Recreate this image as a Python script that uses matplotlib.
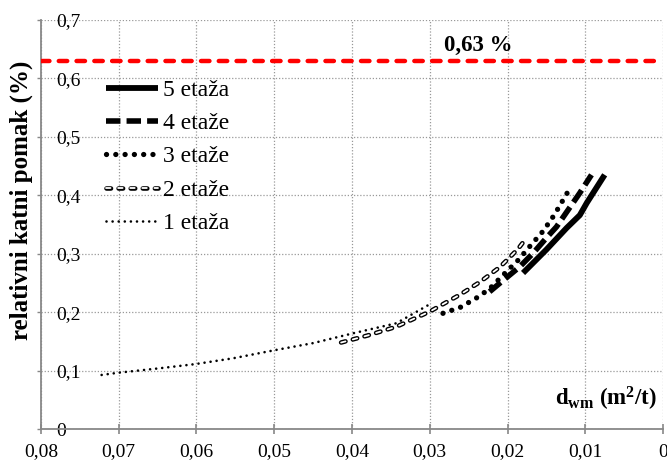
import matplotlib
matplotlib.use("Agg")
import matplotlib.pyplot as plt
import matplotlib.patheffects as pe
from matplotlib.ticker import FuncFormatter, MultipleLocator

plt.rcParams['font.family'] = ['Liberation Serif', 'DejaVu Serif']
plt.rcParams['mathtext.fontset'] = 'custom'
plt.rcParams['mathtext.rm'] = 'Liberation Serif:bold'
plt.rcParams['mathtext.it'] = 'Liberation Serif:italic:bold'
plt.rcParams['mathtext.bf'] = 'Liberation Serif:bold'

# data
x5 = [0.0180, 0.0150, 0.0124, 0.0107, 0.0098, 0.0075]
y5 = [0.267, 0.307, 0.344, 0.366, 0.387, 0.435]
x4 = [0.0223, 0.0205, 0.0184, 0.0167, 0.0150, 0.0137, 0.0122, 0.0107, 0.0092]
y4 = [0.235, 0.255, 0.278, 0.301, 0.327, 0.346, 0.375, 0.404, 0.435]
x3 = [0.0283, 0.0261, 0.0239, 0.0223, 0.0203, 0.0187, 0.0171, 0.0154, 0.0140, 0.0121]
y3 = [0.198, 0.208, 0.225, 0.240, 0.267, 0.288, 0.313, 0.339, 0.366, 0.409]
x2 = [0.0414, 0.0380, 0.0343, 0.0300, 0.0261, 0.0235, 0.0210, 0.0197, 0.0186, 0.0175]
y2 = [0.148, 0.160, 0.175, 0.201, 0.230, 0.252, 0.277, 0.294, 0.309, 0.328]
x1 = [0.0722, 0.0700, 0.0647, 0.0602, 0.0553, 0.0499, 0.0450, 0.0398, 0.0343, 0.0302]
y1 = [0.0925, 0.0964, 0.104, 0.111, 0.121, 0.135, 0.147, 0.164, 0.181, 0.212]
limit = 0.63
limit_label = "0,63 %"
labels = ["5 etaža", "4 etaže", "3 etaže", "2 etaže", "1 etaža"]

fig = plt.figure(figsize=(6.67, 4.63), dpi=100)
ax = fig.add_axes([41/667, (463-429)/463, (663-41)/667, (429-20)/463])

ax.set_xlim(0.08, 0.0)
ax.set_ylim(0, 0.7)
ax.xaxis.set_major_locator(MultipleLocator(0.01))
ax.yaxis.set_major_locator(MultipleLocator(0.1))
fmt = lambda v, p: ("0" if abs(v) < 1e-9 else f"{v:.2f}".replace('.', ','))
fmty = lambda v, p: ("0" if abs(v) < 1e-9 else f"{v:.1f}".replace('.', ','))
ax.xaxis.set_major_formatter(FuncFormatter(fmt))
ax.yaxis.set_major_formatter(FuncFormatter(fmty))
ax.grid(True, color='#999999', linestyle=(0, (1, 1.5)), linewidth=0.9)

for s in ['top', 'right']:
    ax.spines[s].set_visible(False)
for s in ['left', 'bottom']:
    ax.spines[s].set_color('#888888')
    ax.spines[s].set_linewidth(1.3)

ax.tick_params(axis='x', direction='inout', length=7, width=1.2, color='#888888',
               labelsize=14, pad=7)
ax.tick_params(axis='y', direction='out', length=3, width=1.0, color='#888888',
               labelsize=14, pad=-14)
for lab in ax.get_yticklabels():
    lab.set_horizontalalignment('left')

ax.axhline(limit, color='#ff0000', linewidth=3.2, dashes=(1.9, 2.1),
           dash_capstyle='round', zorder=3)
ax.text(0.0238, limit + 0.008, limit_label, ha='center', va='bottom',
        fontsize=16.5, fontweight='bold')

ax.plot(x5, y5, color='black', linewidth=4.2, solid_capstyle='butt', label=labels[0])
ax.plot(x4, y4, color='black', linewidth=4.0, dashes=(2.6, 1.1), label=labels[1])
ax.plot(x3, y3, color='black', linewidth=3.8, dashes=(0.01, 1.75),
        dash_capstyle='round', label=labels[2])
ax.plot(x2, y2, color='white', linewidth=1.3, dashes=(2.5, 4.2),
        dash_capstyle='round',
        path_effects=[pe.Stroke(linewidth=3.3, foreground='black'), pe.Normal()],
        label=labels[3])
ax.plot(x1, y1, color='black', linewidth=1.9, dashes=(0.01, 2.3),
        dash_capstyle='round', label=labels[4])

leg = ax.legend(loc='upper left', bbox_to_anchor=(0.105, 0.855), frameon=False,
                fontsize=17, handlelength=2.2, handletextpad=0.22,
                labelspacing=0.5, borderpad=0, borderaxespad=0)

ax.set_ylabel("relativni katni pomak (%)", fontsize=18, fontweight='bold')
ax.yaxis.set_label_coords(-0.013, 0.56)
ax.text(0.99, 0.04, r"d$_{\rm wm}$ (m$^{\rm 2}$/t)", transform=ax.transAxes,
        ha='right', va='bottom', fontsize=16.5, fontweight='bold')

fig.savefig("out.png", dpi=100)
